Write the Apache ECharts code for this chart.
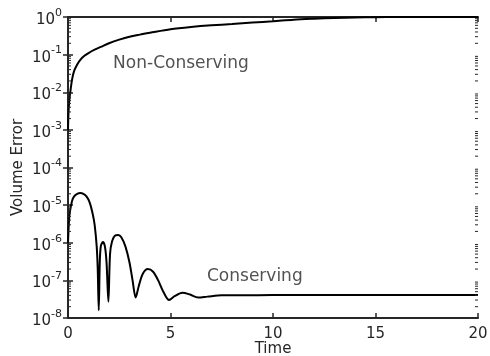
<!DOCTYPE html>
<html><head><meta charset="utf-8">
<script src="https://cdn.jsdelivr.net/npm/echarts@6/dist/echarts.min.js"></script>
<style>html,body{margin:0;padding:0;background:#fff}#c{width:490px;height:356px}</style>
</head><body><div id="c"></div>
<script>
// Non-Conserving series (time, volume error)
var ncTime = [0, 0.02, 0.05, 0.1, 0.2, 0.3, 0.45, 0.6, 0.8, 1.0, 1.3, 1.6, 2.0, 2.5, 3.0, 3.5, 4, 5, 6, 7, 8, 9, 10, 11, 12, 13, 14, 15, 16, 17, 18, 19, 20];
var ncValue = [1e-3, 2.5e-3, 5e-3, 9e-3, 0.022, 0.037, 0.055, 0.073, 0.093, 0.11, 0.135, 0.16, 0.2, 0.25, 0.3, 0.34, 0.38, 0.47, 0.54, 0.6, 0.65, 0.71, 0.77, 0.85, 0.9, 0.94, 0.97, 0.99, 1.0, 1.0, 1.0, 1.0, 1.0];
// Conserving series
var cTime = [0, 0.05, 0.1, 0.2, 0.3, 0.45, 0.6, 0.75, 0.9, 1.05, 1.2, 1.3, 1.4, 1.45, 1.5, 1.55, 1.6, 1.7, 1.8, 1.88, 1.97, 2.05, 2.15, 2.3, 2.45, 2.6, 2.8, 3.0, 3.15, 3.3, 3.45, 3.65, 3.9, 4.15, 4.4, 4.65, 4.93, 5.2, 5.58, 5.95, 6.35, 6.8, 7.5, 8.5, 10, 20];
var cValue = [1e-6, 4e-6, 7e-6, 1.3e-5, 1.7e-5, 2e-5, 2.1e-5, 2e-5, 1.7e-5, 1.2e-5, 6e-6, 3e-6, 8e-7, 2e-7, 1.6e-8, 3e-7, 8e-7, 1.05e-6, 8e-7, 3e-7, 2.7e-8, 5e-7, 1.1e-6, 1.55e-6, 1.6e-6, 1.4e-6, 8e-7, 3e-7, 1e-7, 3.5e-8, 7e-8, 1.5e-7, 2e-7, 1.7e-7, 1e-7, 5e-8, 3e-8, 3.8e-8, 4.7e-8, 4.2e-8, 3.5e-8, 3.7e-8, 4e-8, 4e-8, 4.1e-8, 4.1e-8];
// Annotation texts and their anchor positions (data space)
var annText = ['Non-Conserving', 'Conserving'];
var annTime = [2.2, 6.78];
var annValue = [0.059, 1.25e-7];
// Tick labels
var xTicks = [0, 5, 10, 15, 20];
var yTickExponents = [-8, -7, -6, -5, -4, -3, -2, -1, 0];
var minorMultipliers = [2, 3, 4, 5, 6, 7, 8, 9];

var minorVals = [];
yTickExponents.slice(0, -1).forEach(function (e) {
  minorMultipliers.forEach(function (m) { minorVals.push([0, m * Math.pow(10, e)]); });
});

var FONT = 'DejaVu Sans';
var TXT = '#262626';
var chart = echarts.init(document.getElementById('c'));

function pairs(t, v) { return t.map(function (x, i) { return [x, v[i]]; }); }

var axisLine = { show: true, lineStyle: { color: TXT, width: 2 } };
chart.setOption({
  animation: false,
  grid: { left: 68, right: 12, top: 17, bottom: 38, containLabel: false, outerBoundsMode: 'none' },
  xAxis: [{
    type: 'value', min: 0, max: 20, interval: 5,
    name: 'Time', nameLocation: 'middle', nameGap: 24, nameMoveOverlap: false,
    nameTextStyle: { fontFamily: FONT, fontSize: 15, color: TXT },
    axisLine: axisLine,
    axisTick: { inside: true, length: 5, lineStyle: { color: TXT, width: 1.5 } },
    axisLabel: { fontFamily: FONT, fontSize: 15, color: TXT, margin: 9,
      formatter: function (v) { return xTicks.indexOf(v) >= 0 ? String(v) : ''; } },
    splitLine: { show: false }
  }, {
    type: 'value', min: 0, max: 20, interval: 5, position: 'top',
    axisLine: axisLine,
    axisTick: { inside: true, length: 5, lineStyle: { color: TXT, width: 1.5 } },
    axisLabel: { show: false }, splitLine: { show: false }
  }],
  yAxis: [{
    type: 'log', min: 1e-8, max: 1, logBase: 10, interval: 1,
    name: 'Volume Error', nameLocation: 'middle', nameGap: 42, nameMoveOverlap: false,
    nameTextStyle: { fontFamily: FONT, fontSize: 15, color: TXT },
    axisLine: axisLine,
    axisTick: { inside: true, length: 5, lineStyle: { color: TXT, width: 1.5 } },
    axisLabel: {
      fontFamily: FONT, color: TXT, margin: 6,
      formatter: function (v) { return '{b|10}{s|' + Math.round(Math.log10(v)) + '}'; },
      rich: {
        b: { fontFamily: FONT, fontSize: 15, color: TXT, padding: [6, 0, 0, 0] },
        s: { fontFamily: FONT, fontSize: 11, color: TXT, padding: [0, 0, 8, 0] }
      }
    },
    splitLine: { show: false }
  }, {
    type: 'log', min: 1e-8, max: 1, logBase: 10, interval: 1, position: 'right',
    axisLine: axisLine,
    axisTick: { inside: true, length: 5, lineStyle: { color: TXT, width: 1.5 } },
    axisLabel: { show: false }, splitLine: { show: false }
  }],
  series: [{
    type: 'line', name: 'Non-Conserving', data: pairs(ncTime, ncValue),
    showSymbol: false, smooth: 0.3, lineStyle: { color: '#000', width: 2 }, z: 3
  }, {
    type: 'line', name: 'Conserving', data: pairs(cTime, cValue),
    showSymbol: false, smooth: 0.3, lineStyle: { color: '#000', width: 2 }, z: 3
  }, {
    type: 'scatter', symbolSize: 0, silent: true,
    data: annText.map(function (s, i) { return { value: [annTime[i], annValue[i]], name: s }; }),
    label: { show: true, position: 'right', distance: 0, formatter: '{b}', fontFamily: FONT, fontSize: 17, color: TXT }
  }, {
    type: 'custom', silent: true, clip: false, z: 4,
    data: minorVals,
    renderItem: function (params, api) {
      var v = api.value(1);
      var p0 = api.coord([0, v]);
      var p1 = api.coord([20, v]);
      var st = { stroke: TXT, lineWidth: 1 };
      return { type: 'group', children: [
        { type: 'line', shape: { x1: p0[0], y1: p0[1], x2: p0[0] + 3, y2: p0[1] }, style: st },
        { type: 'line', shape: { x1: p1[0], y1: p1[1], x2: p1[0] - 3, y2: p1[1] }, style: st }
      ] };
    }
  }]
});
</script></body></html>
